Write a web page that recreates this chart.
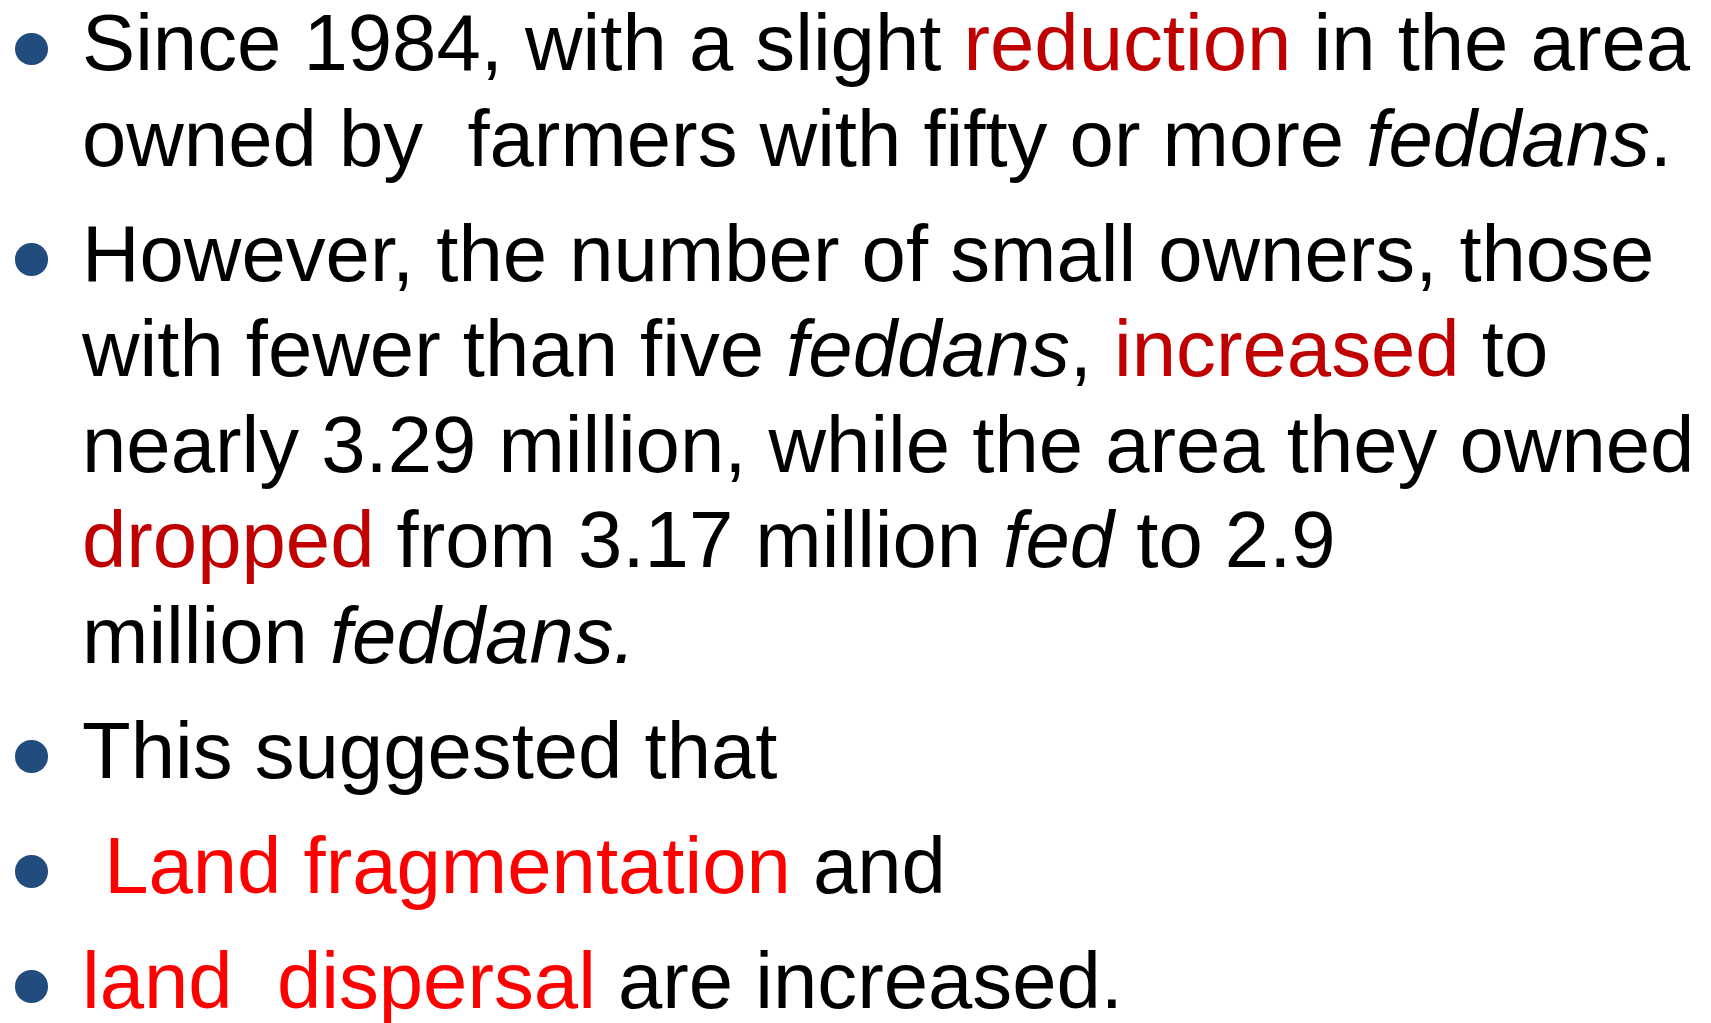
<!DOCTYPE html>
<html>
<head>
<meta charset="utf-8">
<script src="https://cdn.jsdelivr.net/npm/chart.js@4.4.1/dist/chart.umd.min.js"></script>
<style>
  html, body { margin: 0; padding: 0; background: #ffffff; width: 1711px; height: 1023px; overflow: hidden; }
  #slide { position: relative; width: 1711px; height: 1023px; font-family: "Liberation Sans", Arial, sans-serif; font-size: 79.7px; color: #000; }
  .line { position: absolute; left: 82px; white-space: pre; line-height: 96px; height: 96px; }
  .bullet { position: absolute; width: 32.5px; height: 32.5px; border-radius: 50%; background: #234C7E; left: 15px; }
  .dark { color: #C00000; }
  .red { color: #FF0000; }
  i { font-style: italic; }
</style>
</head>
<body>
<div id="slide"></div>
<script>
// Paragraphs: each is an array of lines; each line an array of [text, style]
const para1 = [
  [["Since 1984, with a slight ", ""], ["reduction", "dark"], [" in the area", ""]],
  [["owned by  farmers with fifty or more ", ""], ["feddans", "i"], [".", ""]]
];
const para2 = [
  [["However, the number of small owners, those", ""]],
  [["with fewer than five ", ""], ["feddans", "i"], [", ", ""], ["increased", "dark"], [" to", ""]],
  [["nearly 3.29 million, while the area they owned", ""]],
  [["dropped", "dark"], [" from 3.17 million ", ""], ["fed", "i"], [" to 2.9", ""]],
  [["million ", ""], ["feddans.", "i"]]
];
const para3 = [[["This suggested that", ""]]];
const para4 = [[[" Land fragmentation", "red"], [" and", ""]]];
const para5 = [[["land  dispersal", "red"], [" are increased.", ""]]];
const paragraphs = [para1, para2, para3, para4, para5];

const slide = document.getElementById('slide');
const firstBaseline = 71, lineStep = 95.5, paraGap = 19.5;
const baselineInBox = 75.6; // baseline offset inside a 96px line box
let baseline = firstBaseline;
paragraphs.forEach((para, pi) => {
  if (pi > 0) baseline += lineStep + paraGap;
  const b = document.createElement('div');
  b.className = 'bullet';
  b.style.top = (baseline - 22 - 16.25) + 'px';
  slide.appendChild(b);
  para.forEach((line, li) => {
    if (li > 0) baseline += lineStep;
    const d = document.createElement('div');
    d.className = 'line';
    d.style.top = (baseline - baselineInBox) + 'px';
    line.forEach(([t, s]) => {
      let el;
      if (s === 'i') { el = document.createElement('i'); }
      else { el = document.createElement('span'); if (s) el.className = s; }
      el.textContent = t;
      d.appendChild(el);
    });
    slide.appendChild(d);
  });
});
</script>
</body>
</html>
